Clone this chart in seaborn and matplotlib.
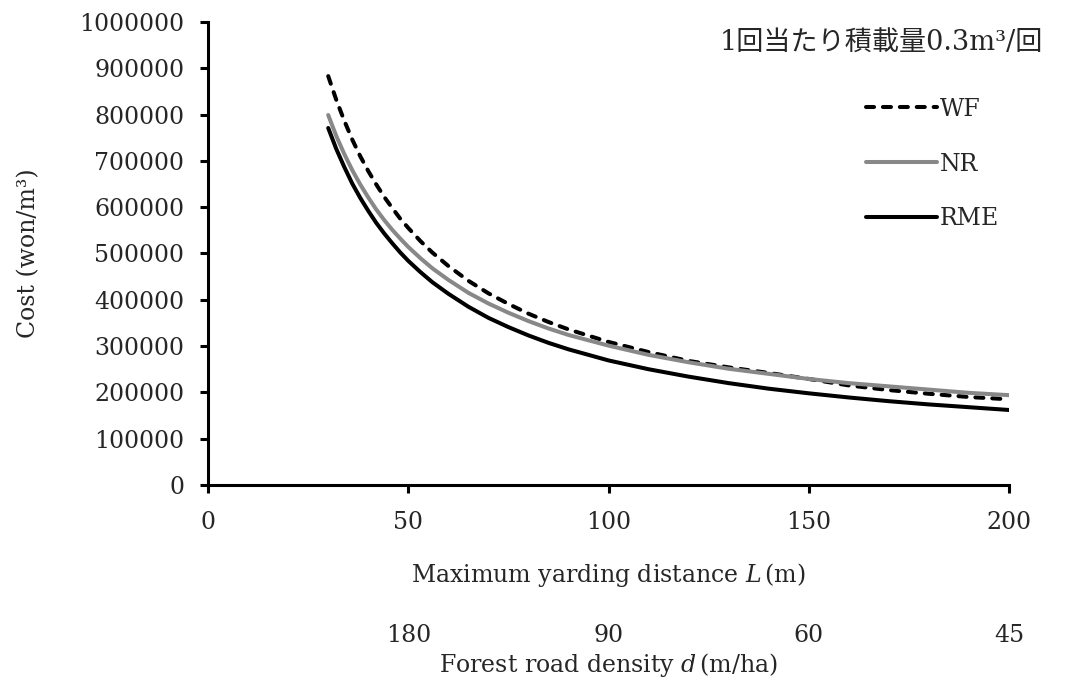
import matplotlib
matplotlib.use("Agg")
import matplotlib.pyplot as plt
import seaborn as sns
import pandas as pd

# Maximum yarding distance L (m) and the matching cost per m3 for each system
distance = [30, 32, 34, 36, 38, 40, 42, 44, 46, 48, 50, 53, 56, 60, 65,
            70, 75, 80, 85, 90, 100, 110, 120, 130, 140, 150, 160, 170,
            180, 190, 200]
cost_wf = [883000, 832000, 787000, 746000, 710000, 678000, 649000, 622000,
           598000, 575000, 555000, 527000, 502000, 473000, 441000, 414000,
           391000, 370000, 352000, 336000, 309000, 287000, 268000, 254000,
           242000, 229000, 215000, 205000, 197000, 190000, 185000]
cost_nr = [799000, 754000, 715000, 680000, 649000, 621000, 595000, 572000,
           551000, 532000, 514000, 490000, 468000, 443000, 415000, 392000,
           372000, 354000, 338000, 324000, 301000, 281000, 265000, 251000,
           240000, 229000, 220000, 213000, 206000, 199000, 194000]
cost_rme = [771000, 726000, 687000, 651000, 620000, 592000, 566000, 543000,
            522000, 502000, 484000, 460000, 438000, 413000, 385000, 361000,
            341000, 323000, 307000, 293000, 269000, 250000, 234000, 220000,
            208000, 198000, 189000, 181000, 174000, 168000, 162000]
series_names = ["WF", "NR", "RME"]

# Forest road density d (m/ha) shown under selected yarding distances
density_positions = [50, 100, 150, 200]
density_labels = ["180", "90", "60", "45"]

x_ticks = [0, 50, 100, 150, 200]
y_ticks = list(range(0, 1000001, 100000))

df = pd.concat([
    pd.DataFrame({"L": distance, "cost": vals, "system": name})
    for name, vals in zip(series_names, [cost_wf, cost_nr, cost_rme])
], ignore_index=True)

sns.set_theme(style="white")
plt.rcParams["font.family"] = ["DejaVu Serif", "Noto Sans CJK JP"]
plt.rcParams["mathtext.fontset"] = "dejavuserif"

fs = 17
fig = plt.figure(figsize=(10.67, 6.86), dpi=100)
ax = fig.add_axes([0.195, 0.293, 0.7507, 0.675])

palette = {"WF": "black", "NR": "#888888", "RME": "black"}
dashes = {"WF": (2.0, 2.2), "NR": "", "RME": ""}
sns.lineplot(data=df, x="L", y="cost", hue="system", style="system",
             palette=palette, dashes=dashes, linewidth=2.9, ax=ax,
             hue_order=series_names, style_order=series_names)
for line in ax.get_lines():
    line.set_dash_capstyle("round")
    line.set_solid_capstyle("round")
    line.set_solid_joinstyle("round")

ax.set_xlim(0, 200)
ax.set_ylim(0, 1000000)
ax.set_xticks(x_ticks)
ax.set_yticks(y_ticks)
ax.set_xticklabels([str(t) for t in x_ticks], fontsize=fs)
ax.set_yticklabels([str(t) for t in y_ticks], fontsize=fs)

for side in ["top", "right"]:
    ax.spines[side].set_visible(False)
for side in ["left", "bottom"]:
    ax.spines[side].set_linewidth(2.2)
    ax.spines[side].set_color("black")
ax.tick_params(axis="both", which="major", direction="out", length=6,
               width=2.2, color="black", bottom=True, left=True)
ax.tick_params(axis="y", pad=11)
ax.tick_params(axis="x", pad=13)

ax.set_xlabel("Maximum yarding distance $L\\,$(m)", fontsize=fs, labelpad=19)
ax.set_ylabel("Cost (won/m³)", fontsize=fs, labelpad=28)

# Second row of labels: forest road density for each distance
sec = ax.secondary_xaxis(-0.30)
sec.set_xticks(density_positions)
sec.set_xticklabels(density_labels, fontsize=fs)
sec.tick_params(length=0, pad=0)
sec.spines["bottom"].set_visible(False)
sec.set_xlabel("Forest road density $d\\,$(m/ha)", fontsize=fs, labelpad=3)

ax.text(1.042, 0.953, "1回当たり積載量0.3m³/回", transform=ax.transAxes,
        ha="right", va="center", fontsize=19.5,
        family=["DejaVu Serif", "Noto Sans CJK JP"])

handles, labels = ax.get_legend_handles_labels()
leg = ax.legend(handles, labels, loc="center left",
                bbox_to_anchor=(0.822, 0.693), frameon=False, fontsize=fs,
                handlelength=3.0, handletextpad=0.1, labelspacing=1.35,
                borderaxespad=0, borderpad=0)
for h in leg.get_lines():
    h.set_linewidth(2.9)

fig.savefig("out.png", dpi=100)
